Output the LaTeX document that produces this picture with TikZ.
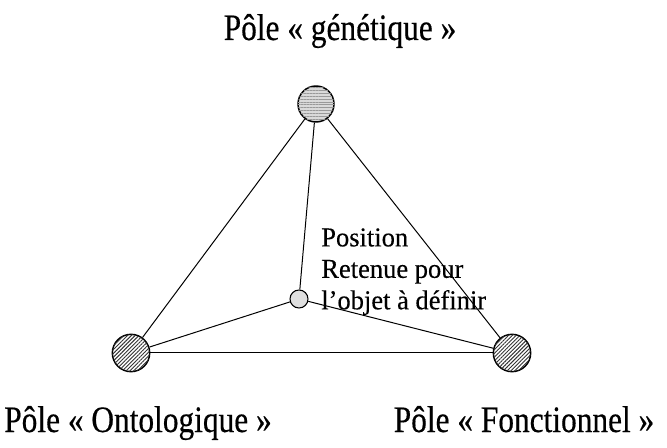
\documentclass[tikz,border=0pt]{standalone}
\usepackage{fontspec}
\setmainfont{Liberation Serif}
\newfontfamily\polefont[FakeStretch=0.84, FakeBold=0.4]{Liberation Serif}
\newfontfamily\notefont[FakeStretch=0.97, FakeBold=0.3]{Liberation Serif}
\usetikzlibrary{patterns.meta}

\begin{document}
\begin{tikzpicture}[x=0.75pt, y=-0.75pt,
    pole/.style={circle, draw, line width=1.1pt, inner sep=0pt, minimum size=28pt},
    toppole/.style={pole, minimum size=27pt, fill=gray!30,
        postaction={pattern={Lines[angle=0, distance=2.2pt, line width=0.5pt]}, pattern color=gray!80}},
    basepole/.style={pole, fill=white,
        postaction={pattern={Lines[angle=45, distance=2pt, line width=0.7pt]}, pattern color=black!80}},
    target/.style={circle, draw, line width=0.8pt, inner sep=0pt, minimum size=13.5pt, fill=gray!25},
    link/.style={line width=0.75pt},
    title/.style={font=\polefont\fontsize{28}{30}\selectfont, anchor=base},
    ]
    \useasboundingbox (0,0) rectangle (667,448);
    % Nodes
    \node[toppole] (genetique) at (316,104) {};
    \node[basepole] (ontologique) at (131,353) {};
    \node[basepole] (fonctionnel) at (512,353) {};
    \node[target] (position) at (299,299) {};

    % Edges
    \draw[link] (genetique) -- (ontologique);
    \draw[link] (genetique) -- (fonctionnel);
    \draw[link] (ontologique) -- (fonctionnel);
    \draw[link] (genetique) -- (position);
    \draw[link] (position) -- (ontologique);
    \draw[link] (position) -- (fonctionnel);

    % Labels
    \node[title] (lgen) at (340,40) {Pôle « génétique »};
    \node[title] (lont) at (138,432) {Pôle « Ontologique »};
    \node[title] (lfon) at (524,432) {Pôle « Fonctionnel »};
    \node[font=\notefont\fontsize{20.5}{23.6}\selectfont, align=left, anchor=north west, inner sep=0pt]
        (lpos) at (321,228) {Position\\Retenue pour\\l’objet à définir};
\end{tikzpicture}
\end{document}
